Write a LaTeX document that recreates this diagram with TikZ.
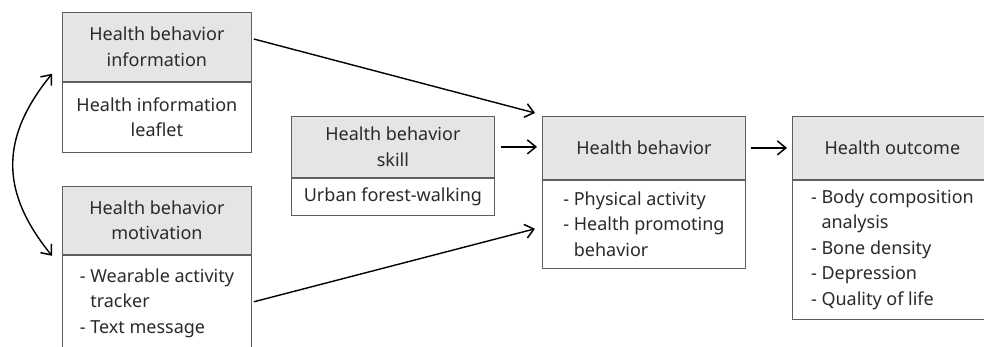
\documentclass[tikz,border=0pt]{standalone}
\usepackage{fontspec}
\setmainfont{Noto Sans}
\usetikzlibrary{arrows.meta,calc}
\definecolor{hdrfill}{HTML}{E4E5E6}
\definecolor{boxline}{HTML}{5E5E5E}
\definecolor{txt}{HTML}{2A2A2A}
\newcommand{\ind}{\hphantom{-\ }}
\begin{document}
\begin{tikzpicture}[x=1pt,y=1pt,
  box/.style={draw=boxline,line width=0.8pt,inner sep=0pt,anchor=north west,align=center,
    text=txt,font=\fontsize{18}{25.5}\selectfont},
  hdr/.style={box,fill=hdrfill},
  bdy/.style={box,fill=white,anchor=north},
  lst/.style={bdy,align=left},
  tip/.style={},
  arr/.style={line width=1.4pt,-{Straight Barb[length=8.5pt,width=14pt,line width=1.5pt]}},
  darr/.style={line width=1.4pt,{Straight Barb[length=8.5pt,width=14pt,line width=1.5pt]}-{Straight Barb[length=8.5pt,width=14pt,line width=1.5pt]}}]
\useasboundingbox (0,0) rectangle (984,347);
\clip (0,0) rectangle (984,347);
% information
\node[hdr,minimum width=189pt,minimum height=69pt] (infoH) at (62,335) {Health behavior\\information};
\node[bdy,minimum width=189pt,minimum height=70pt] (infoB) at (infoH.south) {Health information\\leaflet};
% motivation
\node[hdr,minimum width=189pt,minimum height=68pt] (motH) at (62,161) {Health behavior\\motivation};
\node[lst,minimum width=189pt,minimum height=96pt] (motB) at (motH.south) {-\ Wearable activity\\\ind tracker\\-\ Text message};
% skill
\node[hdr,minimum width=203pt,minimum height=61pt] (skH) at (291,231) {Health behavior\\skill};
\node[bdy,minimum width=203pt,minimum height=37pt] (skB) at (skH.south) {Urban forest-walking};
% behavior
\node[hdr,minimum width=203pt,minimum height=63pt] (behH) at (542,231) {Health behavior};
\node[lst,minimum width=203pt,minimum height=88pt] (behB) at (behH.south) {-\ Physical activity\\-\ Health promoting\\\ind behavior};
% outcome
\node[hdr,minimum width=200pt,minimum height=63pt] (outH) at (792,231) {Health outcome};
\node[lst,minimum width=200pt,minimum height=139pt] (outB) at (outH.south) {-\ Body composition\\\ind analysis\\-\ Bone density\\-\ Depression\\-\ Quality of life};
% connectors
\coordinate (cTop) at ($(infoH.south west)+(-10,8)$);
\coordinate (cBot) at ($(motH.south west)+(-10,-1)$);
\draw[darr] (cTop) .. controls ($(cTop)+(-52,-64)$) and ($(cBot)+(-52,64)$) .. (cBot);
\draw[arr] ($(infoH.north east)+(2,-27)$) -- ($(behH.north west)+(-7,3)$);
\draw[arr] ([xshift=6pt]skH.east) -- ([xshift=-5pt]skH.east -| behH.west);
\draw[arr] ($(motB.north east)+(2,-47)$) -- ($(behB.north west)+(-7,-49)$);
\draw[arr] ([xshift=5pt]behH.east) -- ([xshift=-5pt]behH.east -| outH.west);
\end{tikzpicture}
\end{document}
